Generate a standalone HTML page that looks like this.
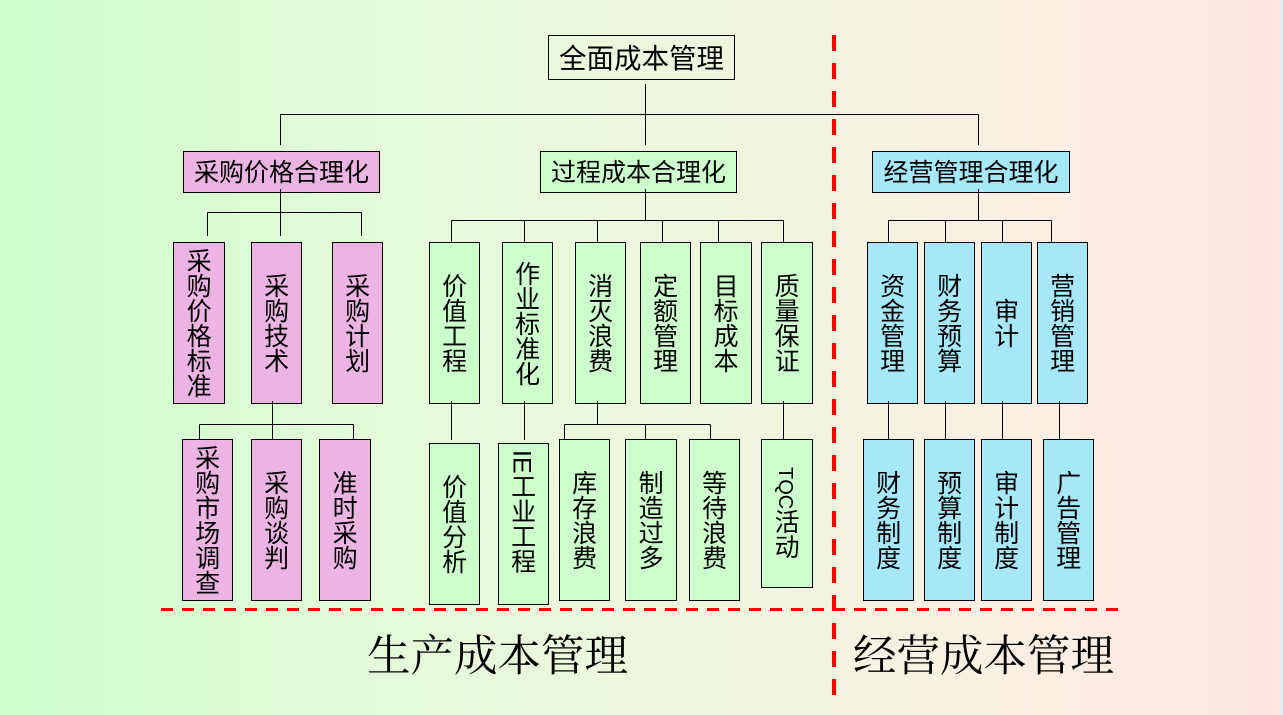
<!DOCTYPE html>
<html lang="zh">
<head>
<meta charset="utf-8">
<title>全面成本管理</title>
<style>
html,body{margin:0;padding:0;width:1283px;height:715px;overflow:hidden}
body{position:relative;background:linear-gradient(to right,#ccffcc 0,#e4fad8 30%,#f1f5df 60%,#faeee3 82%,#ffe4e1 100%);font-family:"Liberation Sans","WenQuanYi Zen Hei","Noto Sans CJK SC",sans-serif;color:#000}
.bar{position:absolute;left:1280px;top:0;width:3px;height:715px;background:#e8ecf0}
.b{position:absolute;box-sizing:border-box;border:1px solid #000;display:flex;align-items:center;justify-content:center;font-size:25px;line-height:25.3px;white-space:nowrap;padding-top:4px}
.v{writing-mode:vertical-rl;padding-top:0;padding-right:5px}
.p{background:#ecb4e2}
.g{background:#ccffcc}
.c{background:#a6e8f8}
svg{position:absolute;left:0;top:0}
.t{position:absolute;font-family:"Liberation Serif","Noto Serif CJK SC",serif;font-size:43.5px;line-height:60px;top:627px;white-space:nowrap}
</style>
</head>
<body>
<div class="bar"></div>

<div class="b" style="left:548px;top:35px;width:187px;height:45px;font-size:27.5px;padding-top:2px">全面成本管理</div>
<div class="b p" style="left:183px;top:151px;width:197px;height:42px">采购价格合理化</div>
<div class="b g" style="left:540px;top:151px;width:197px;height:42px">过程成本合理化</div>
<div class="b c" style="left:872px;top:151px;width:198px;height:42px">经营管理合理化</div>

<div class="b v p" style="left:173px;top:242px;width:52px;height:162px">采购价格标准</div>
<div class="b v p" style="left:251px;top:242px;width:51px;height:162px">采购技术</div>
<div class="b v p" style="left:332px;top:242px;width:51px;height:162px">采购计划</div>
<div class="b v g" style="left:429px;top:242px;width:51px;height:162px">价值工程</div>
<div class="b v g" style="left:502px;top:242px;width:51px;height:162px">作业标准化</div>
<div class="b v g" style="left:575px;top:242px;width:51px;height:162px">消灭浪费</div>
<div class="b v g" style="left:640px;top:242px;width:51px;height:162px">定额管理</div>
<div class="b v g" style="left:700px;top:242px;width:52px;height:162px">目标成本</div>
<div class="b v g" style="left:761px;top:242px;width:52px;height:162px">质量保证</div>
<div class="b v c" style="left:867px;top:242px;width:51px;height:162px">资金管理</div>
<div class="b v c" style="left:924px;top:242px;width:51px;height:162px">财务预算</div>
<div class="b v c" style="left:981px;top:242px;width:51px;height:162px">审计</div>
<div class="b v c" style="left:1037px;top:242px;width:51px;height:162px">营销管理</div>

<div class="b v p" style="left:182px;top:439px;width:51px;height:162px">采购市场调查</div>
<div class="b v p" style="left:251px;top:439px;width:51px;height:162px">采购谈判</div>
<div class="b v p" style="left:319px;top:439px;width:52px;height:162px">准时采购</div>
<div class="b v g" style="left:429px;top:443px;width:51px;height:162px">价值分析</div>
<div class="b v g" style="left:498px;top:443px;width:51px;height:162px;padding-bottom:24px">IE工业工程</div>
<div class="b v g" style="left:559px;top:439px;width:51px;height:162px">库存浪费</div>
<div class="b v g" style="left:625px;top:439px;width:52px;height:162px">制造过多</div>
<div class="b v g" style="left:689px;top:439px;width:51px;height:162px">等待浪费</div>
<div class="b v g" style="left:761px;top:439px;width:52px;height:149px"><span><span style="font-size:20px">TQC</span>活动</span></div>
<div class="b v c" style="left:863px;top:439px;width:51px;height:162px">财务制度</div>
<div class="b v c" style="left:924px;top:439px;width:51px;height:162px">预算制度</div>
<div class="b v c" style="left:981px;top:439px;width:51px;height:162px">审计制度</div>
<div class="b v c" style="left:1043px;top:439px;width:51px;height:162px">广告管理</div>

<svg width="1283" height="715" viewBox="0 0 1283 715">
<path fill="none" stroke="#000" stroke-width="1" d="
M645.5 84V145 M280.5 114.5H978.5 M280.5 114.5V145 M978.5 114.5V145
M280.5 189V236 M207.5 212.5H361.5 M207.5 212.5V236 M361.5 212.5V236
M645.5 189V220.5 M451.5 220.5H783.5 M451.5 220.5V242 M524.5 220.5V242 M597.5 220.5V242 M662.5 220.5V242 M718.5 220.5V242 M783.5 220.5V242
M978.5 189V220.5 M888.5 220.5H1051.5 M888.5 220.5V242 M945.5 220.5V242 M1002.5 220.5V242 M1051.5 220.5V242
M272.5 401V439 M199.5 424.5H353.5 M199.5 424.5V439 M353.5 424.5V439
M451.5 401V440 M524.5 401V440
M597.5 401V424.5 M564.5 424.5H710.5 M564.5 424.5V439 M645.5 424.5V439 M710.5 424.5V439
M783.5 401V439
M888.5 401V439 M945.5 401V439 M1002.5 401V439 M1059.5 401V439"/>
<line x1="834" y1="35" x2="834" y2="695" stroke="#ff0000" stroke-width="4" stroke-dasharray="16 12"/>
<line x1="161" y1="609.5" x2="1118" y2="609.5" stroke="#ff0000" stroke-width="3" stroke-dasharray="12 9"/>
</svg>

<div class="t" style="left:367px">生产成本管理</div>
<div class="t" style="left:853px">经营成本管理</div>
</body>
</html>
